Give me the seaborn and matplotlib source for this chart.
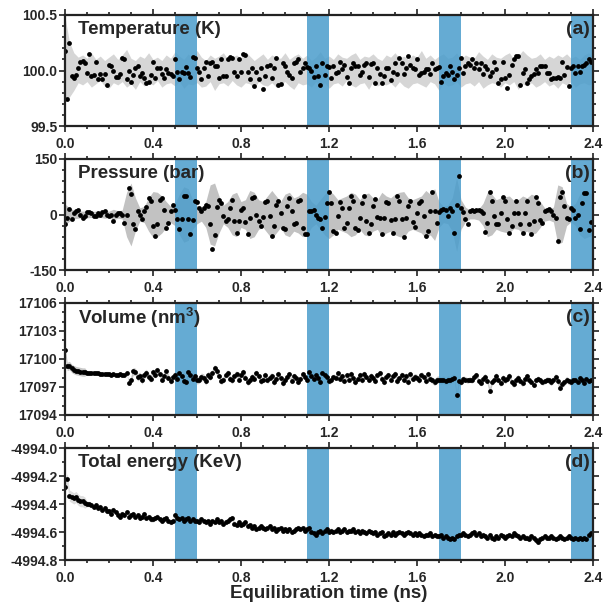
import numpy as np
import pandas as pd
import matplotlib
matplotlib.use("Agg")
import matplotlib.pyplot as plt
from matplotlib.ticker import MultipleLocator, FormatStrFormatter
import seaborn as sns

# ---------------------------------------------------------------- data
# sampled snapshots every 0.01 ns, 0.00 ... 2.39 ns
temperature = [
    100.18, 99.74, 100.25, 99.95, 99.93, 99.96, 100.02, 100.08, 100.09, 100.07,
    99.98, 100.15, 99.95, 99.96, 100.08, 99.92, 99.97, 99.92, 99.97, 99.87,
    100.05, 100.04, 100.00, 99.94, 99.94, 99.97, 100.11, 100.10, 99.92, 100.00,
    99.90, 99.96, 100.02, 100.04, 99.95, 99.98, 99.93, 99.89, 99.90, 99.96,
    100.08, 99.93, 100.02, 100.02, 99.97, 99.93, 100.01, 99.98, 99.97, 99.95,
    100.10, 99.99, 99.92, 99.99, 99.98, 100.03, 99.98, 99.94, 100.12, 100.11,
    100.02, 99.99, 99.92, 100.02, 100.08, 99.95, 100.07, 100.08, 100.04, 100.04,
    99.93, 100.10, 99.95, 99.95, 100.10, 100.12, 100.11, 99.99, 99.95, 100.10,
    99.99, 100.15, 100.14, 99.99, 99.92, 100.02, 99.86, 99.99, 99.92, 100.02,
    99.83, 99.95, 100.04, 100.05, 99.93, 100.02, 100.11, 99.87, 99.88, 100.07,
    100.04, 99.99, 99.96, 99.93, 100.07, 100.08, 100.10, 99.99, 100.02, 100.07,
    100.03, 100.02, 100.00, 99.94, 100.04, 99.95, 99.87, 100.07, 99.96, 100.04,
    100.03, 99.93, 100.04, 99.98, 99.99, 100.08, 100.01, 100.05, 99.94, 99.89,
    100.02, 100.07, 100.04, 100.04, 99.96, 99.99, 100.05, 100.07, 99.94, 100.06,
    100.07, 99.89, 100.02, 99.97, 99.89, 99.95, 100.02, 100.02, 99.91, 99.99,
    100.07, 99.97, 100.11, 100.07, 99.97, 100.02, 100.13, 100.05, 100.02, 100.01,
    100.10, 99.96, 99.98, 99.99, 100.01, 100.01, 99.97, 100.07, 100.01, 100.02,
    100.03, 99.90, 99.95, 99.98, 99.96, 100.04, 99.99, 99.92, 99.96, 100.02,
    100.11, 99.98, 100.04, 100.07, 100.05, 100.10, 100.02, 100.07, 100.01, 100.07,
    99.97, 100.04, 100.01, 99.95, 99.99, 100.08, 100.01, 99.89, 99.92, 100.08,
    99.93, 99.84, 99.96, 100.05, 100.10, 100.13, 100.13, 99.87, 99.98, 100.01,
    99.89, 99.92, 99.95, 99.97, 100.01, 99.98, 100.04, 100.04, 100.04, 99.98,
    99.98, 99.92, 99.93, 99.93, 99.94, 99.93, 100.08, 99.96, 100.03, 99.86,
    100.02, 100.04, 99.98, 100.04, 99.99, 100.04, 100.05, 100.07, 100.10, 100.08,
]

pressure = [
    -27, -10, 15, -13, 4, 9, 12, 0, -9, -3,
    6, 6, 3, -4, -3, 3, 0, 6, 9, 0,
    -3, 0, -18, 0, 3, 3, 0, -22, 0, 71,
    56, -27, -40, 9, 0, -13, 9, 20, 45, 36,
    -31, -58, -27, 40, 45, 12, -36, -22, 9, 27,
    13, -12, -38, -13, 49, 49, -13, -52, -15, 36,
    33, 18, 9, 18, 27, 22, -27, -92, -56, 20,
    40, 31, -3, -18, -13, 18, 40, -18, -49, -18,
    13, 18, -20, -54, -9, 45, 47, 0, -18, -31,
    -6, 33, 36, -3, -58, -31, 27, 36, 4, -36,
    -40, 22, 45, 9, -27, -22, 36, 40, -36, -54,
    -54, 9, 9, 13, 0, -9, -13, -36, -6, 31,
    62, 31, -45, -51, -4, 33, 18, -36, -22, 18,
    51, 36, -36, -42, -9, 31, 49, -18, -49, -27,
    22, 42, -6, -9, -54, -9, 33, 31, -15, -51,
    -13, 51, 36, -13, -60, -9, 22, 36, -20, -33,
    4, 31, 36, -3, -58, -45, 9, 60, 9, -22,
    6, 13, 15, 13, -4, 18, 9, -49, 27, 104,
    18, 6, -13, -27, 9, 12, 9, 12, 13, 9,
    4, -47, -22, 62, 36, -4, -27, -27, 4, 47,
    36, -13, -49, -31, 3, 36, 4, -27, -49, 4,
    36, -27, -54, -18, 47, 31, -15, -22, 9, 12,
    15, 9, 0, -9, -71, 47, 62, 22, -9, -13,
    18, 13, -9, 0, -40, 31, 58, 58, -42, -20,
]

volume = [
    17101.0, 17099.2, 17099.3, 17099.0, 17098.85, 17098.75, 17098.7, 17098.65, 17098.6, 17098.6,
    17098.55, 17098.5, 17098.5, 17098.45, 17098.5, 17098.45, 17098.4, 17098.4, 17098.35, 17098.4,
    17098.35, 17098.3, 17098.35, 17098.3, 17098.3, 17098.35, 17098.3, 17098.25, 17098.55, 17097.4,
    17097.8, 17098.7, 17098.6, 17098.05, 17098.2, 17097.7, 17098.3, 17098.5, 17098.1, 17097.9,
    17098.6, 17098.3, 17098.8, 17098.4, 17097.8, 17098.2, 17098.7, 17098.0, 17097.6, 17098.1,
    17098.3, 17097.9, 17098.5, 17098.2, 17097.6, 17097.5, 17098.6, 17098.3, 17097.9, 17098.2,
    17097.7, 17097.8, 17098.1, 17098.0, 17097.6, 17098.3, 17098.1, 17098.5, 17099.0, 17098.7,
    17098.2, 17097.6, 17097.8, 17098.3, 17098.5, 17097.9, 17097.7, 17098.2, 17098.4, 17097.8,
    17098.3, 17098.6, 17098.0, 17097.5, 17097.7, 17098.1, 17097.9, 17098.5, 17098.2, 17097.6,
    17097.8, 17098.3, 17097.7, 17098.0, 17098.2, 17097.5, 17097.9, 17098.4, 17098.0, 17097.4,
    17097.7, 17098.1, 17098.4, 17097.6, 17098.2, 17098.0, 17097.5, 17097.9, 17098.4, 17098.1,
    17097.8, 17098.6, 17098.2, 17097.9, 17098.3, 17098.0, 17097.5, 17098.5, 17098.3, 17098.1,
    17097.6, 17097.7, 17098.1, 17098.0, 17098.5, 17097.9, 17098.2, 17097.6, 17098.3, 17097.8,
    17098.4, 17098.0, 17097.5, 17097.9, 17098.3, 17097.7, 17098.4, 17098.1, 17097.8, 17098.2,
    17098.0, 17097.6, 17098.3, 17098.5, 17097.9, 17097.5, 17098.1, 17098.3, 17097.7, 17098.2,
    17098.4, 17097.6, 17098.0, 17098.3, 17097.8, 17098.2, 17097.5, 17098.4, 17097.9, 17098.1,
    17098.0, 17097.7, 17098.3, 17098.1, 17097.6, 17098.4, 17097.9, 17097.7, 17097.5, 17097.8,
    17097.8, 17097.7, 17097.8, 17097.6, 17097.8, 17097.7, 17097.9, 17098.0, 17096.1, 17097.6,
    17097.5, 17097.9, 17097.8, 17097.7, 17097.8, 17097.7, 17098.1, 17098.3, 17097.6, 17097.4,
    17097.9, 17098.1, 17097.6, 17096.6, 17097.5, 17097.8, 17098.2, 17097.7, 17097.4, 17098.0,
    17097.7, 17097.9, 17098.2, 17097.5, 17097.3, 17097.8, 17098.0, 17097.6, 17097.4, 17097.9,
    17098.2, 17097.8, 17097.5, 17097.2, 17097.7, 17097.9, 17097.7, 17097.5, 17097.6, 17097.8,
    17097.7, 17097.5, 17097.8, 17098.1, 17097.6, 17096.9, 17097.3, 17097.5, 17097.8, 17097.6,
    17097.5, 17097.7, 17097.8, 17097.5, 17098.0, 17097.7, 17097.4, 17097.9, 17097.6, 17097.7,
]

energy = [
    -4994.28, -4994.22, -4994.34, -4994.35, -4994.36, -4994.35, -4994.37, -4994.38, -4994.38, -4994.39,
    -4994.40, -4994.40, -4994.41, -4994.42, -4994.41, -4994.43, -4994.42, -4994.44, -4994.43, -4994.45,
    -4994.45, -4994.47, -4994.44, -4994.46, -4994.48, -4994.49, -4994.47, -4994.48, -4994.46, -4994.49,
    -4994.48, -4994.47, -4994.49, -4994.48, -4994.50, -4994.49, -4994.47, -4994.50, -4994.49, -4994.51,
    -4994.51, -4994.50, -4994.49, -4994.51, -4994.52, -4994.51, -4994.50, -4994.52, -4994.53, -4994.52,
    -4994.48, -4994.50, -4994.51, -4994.50, -4994.52, -4994.51, -4994.50, -4994.52, -4994.51, -4994.52,
    -4994.52, -4994.53, -4994.51, -4994.52, -4994.53, -4994.52, -4994.54, -4994.52, -4994.53, -4994.51,
    -4994.53, -4994.52, -4994.54, -4994.53, -4994.52, -4994.51, -4994.50, -4994.54, -4994.55, -4994.53,
    -4994.55, -4994.54, -4994.53, -4994.56, -4994.55, -4994.57, -4994.56, -4994.58, -4994.57, -4994.56,
    -4994.57, -4994.58, -4994.57, -4994.56, -4994.58, -4994.57, -4994.59, -4994.58, -4994.57, -4994.59,
    -4994.58, -4994.59, -4994.58, -4994.60, -4994.59, -4994.58, -4994.57, -4994.58, -4994.57, -4994.59,
    -4994.58, -4994.57, -4994.60, -4994.61, -4994.62, -4994.60, -4994.59, -4994.61, -4994.59, -4994.58,
    -4994.60, -4994.59, -4994.60, -4994.59, -4994.58, -4994.60, -4994.59, -4994.58, -4994.60, -4994.59,
    -4994.59, -4994.58, -4994.60, -4994.59, -4994.61, -4994.59, -4994.60, -4994.61, -4994.59, -4994.60,
    -4994.61, -4994.60, -4994.62, -4994.61, -4994.60, -4994.63, -4994.62, -4994.61, -4994.62, -4994.60,
    -4994.62, -4994.61, -4994.60, -4994.61, -4994.62, -4994.61, -4994.60, -4994.61, -4994.62, -4994.61,
    -4994.62, -4994.61, -4994.62, -4994.63, -4994.62, -4994.62, -4994.61, -4994.63, -4994.62, -4994.63,
    -4994.63, -4994.62, -4994.64, -4994.63, -4994.64, -4994.65, -4994.64, -4994.65, -4994.63, -4994.62,
    -4994.62, -4994.61, -4994.62, -4994.63, -4994.62, -4994.61, -4994.60, -4994.62, -4994.61, -4994.63,
    -4994.62, -4994.63, -4994.64, -4994.62, -4994.64, -4994.65, -4994.63, -4994.64, -4994.62, -4994.63,
    -4994.64, -4994.63, -4994.62, -4994.63, -4994.61, -4994.62, -4994.63, -4994.64, -4994.63, -4994.64,
    -4994.64, -4994.65, -4994.63, -4994.64, -4994.66, -4994.67, -4994.65, -4994.64, -4994.63, -4994.64,
    -4994.64, -4994.63, -4994.64, -4994.65, -4994.64, -4994.63, -4994.64, -4994.65, -4994.64, -4994.63,
    -4994.64, -4994.65, -4994.64, -4994.65, -4994.64, -4994.65, -4994.64, -4994.65, -4994.62, -4994.61,
]

# spread of the full-resolution trajectory (grey), every 0.02 ns, 0.00 ... 2.40 ns
temp_upper = [
    0.48, 0.26, 0.16, 0.12, 0.14, 0.11, 0.16, 0.10, 0.13, 0.09,
    0.12, 0.15, 0.10, 0.14, 0.19, 0.11, 0.09, 0.13, 0.11, 0.16,
    0.10, 0.12, 0.09, 0.14, 0.11, 0.17, 0.13, 0.10, 0.15, 0.11,
    0.18, 0.12, 0.09, 0.14, 0.11, 0.13, 0.16, 0.10, 0.12, 0.14,
    0.11, 0.17, 0.13, 0.09, 0.12, 0.15, 0.10, 0.14, 0.12, 0.11,
    0.16, 0.10, 0.13, 0.15, 0.11, 0.14, 0.09, 0.12, 0.17, 0.11,
    0.13, 0.10, 0.15, 0.12, 0.11, 0.14, 0.16, 0.10, 0.13, 0.12,
    0.15, 0.11, 0.09, 0.14, 0.12, 0.16, 0.11, 0.13, 0.10, 0.14,
    0.12, 0.18, 0.11, 0.14, 0.10, 0.13, 0.15, 0.11, 0.12, 0.16,
    0.10, 0.14, 0.12, 0.11, 0.17, 0.13, 0.10, 0.15, 0.12, 0.11,
    0.14, 0.16, 0.10, 0.13, 0.18, 0.14, 0.11, 0.12, 0.15, 0.10,
    0.13, 0.11, 0.14, 0.12, 0.15, 0.11, 0.13, 0.10, 0.14, 0.16,
    0.12,
]
temp_lower = [
    0.26, 0.24, 0.18, 0.11, 0.13, 0.10, 0.15, 0.12, 0.09, 0.14,
    0.16, 0.11, 0.13, 0.10, 0.15, 0.12, 0.17, 0.10, 0.14, 0.11,
    0.13, 0.09, 0.15, 0.12, 0.11, 0.14, 0.10, 0.16, 0.12, 0.13,
    0.11, 0.15, 0.14, 0.10, 0.18, 0.12, 0.11, 0.14, 0.09, 0.13,
    0.15, 0.11, 0.12, 0.16, 0.10, 0.13, 0.14, 0.11, 0.15, 0.12,
    0.10, 0.14, 0.17, 0.11, 0.13, 0.12, 0.15, 0.10, 0.14, 0.11,
    0.16, 0.12, 0.11, 0.14, 0.09, 0.13, 0.15, 0.12, 0.11, 0.17,
    0.10, 0.14, 0.12, 0.13, 0.11, 0.15, 0.10, 0.14, 0.16, 0.12,
    0.11, 0.13, 0.15, 0.10, 0.12, 0.18, 0.11, 0.14, 0.13, 0.10,
    0.15, 0.12, 0.11, 0.14, 0.10, 0.16, 0.13, 0.11, 0.12, 0.15,
    0.11, 0.13, 0.10, 0.17, 0.12, 0.14, 0.11, 0.15, 0.13, 0.10,
    0.14, 0.12, 0.16, 0.11, 0.13, 0.10, 0.15, 0.12, 0.11, 0.13,
    0.12,
]
press_spread = [
    28, 18, 12, 10, 9, 9, 8, 9, 8, 10,
    9, 14, 10, 12, 60, 85, 45, 18, 22, 45,
    62, 60, 50, 35, 22, 30, 55, 75, 70, 40,
    25, 18, 35, 80, 85, 50, 25, 35, 55, 60,
    35, 40, 65, 60, 40, 35, 50, 65, 50, 35,
    55, 60, 45, 50, 60, 55, 35, 25, 40, 55,
    65, 55, 40, 45, 50, 60, 55, 40, 55, 58,
    45, 40, 60, 50, 45, 55, 60, 62, 45, 40,
    45, 50, 65, 55, 70, 35, 22, 25, 45, 100,
    40, 20, 12, 12, 15, 30, 60, 55, 40, 45,
    48, 50, 38, 40, 50, 45, 55, 50, 35, 18,
    15, 20, 80, 75, 30, 20, 30, 55, 65, 60,
    55,
]
# spread around the sampled points, every 0.1 ns
vol_spread = [0.45, 0.15, 0.15, 0.40, 0.35, 0.35, 0.40, 0.35, 0.35, 0.35, 0.30, 0.35,
              0.30, 0.35, 0.30, 0.35, 0.35, 0.40, 0.30, 0.35, 0.35, 0.30, 0.35, 0.30]
energy_spread = [0.04, 0.02, 0.02, 0.02, 0.02, 0.02, 0.02, 0.02, 0.02, 0.02, 0.02, 0.02,
                 0.02, 0.02, 0.02, 0.02, 0.02, 0.02, 0.02, 0.02, 0.02, 0.02, 0.02, 0.02]

# re-equilibration windows (ns)
windows = [(0.5, 0.6), (1.1, 1.2), (1.7, 1.8), (2.3, 2.4)]

titles = ["Temperature (K)", "Pressure (bar)", "Volume (nm$^\\mathbf{3}$)", "Total energy (KeV)"]
tags = ["(a)", "(b)", "(c)", "(d)"]
ylims = [(99.5, 100.5), (-150, 150), (17094, 17106), (-4994.8, -4994.0)]
ymajor = [0.5, 150, 3, 0.2]
yminor = [0.1, 30, 1, 0.1]
yfmt = ["%.1f", "%d", "%d", "%.1f"]

# ---------------------------------------------------------------- style
sns.set_theme(style="ticks")
plt.rcParams["font.family"] = ["Liberation Sans", "DejaVu Sans"]
plt.rcParams["font.weight"] = "bold"
plt.rcParams["axes.unicode_minus"] = False
plt.rcParams["mathtext.fontset"] = "custom"
plt.rcParams["mathtext.bf"] = "Liberation Sans:bold"
plt.rcParams["mathtext.rm"] = "Liberation Sans:bold"

t = np.arange(len(temperature)) * 0.01
t2 = np.arange(len(temp_upper)) * 0.02

fig = plt.figure(figsize=(6.05, 6.09), dpi=100)
left, width = 65 / 605, 528 / 605
tops = [15, 159, 303, 448]
heights = [111, 111, 112, 112]
axes = [fig.add_axes([left, 1 - (tp + h) / 609, width, h / 609]) for tp, h in zip(tops, heights)]

series = [temperature, pressure, volume, energy]
grey = ["#d6d6d6", "#c2c2c2", "#c8c8c8", "#dedede"]
band_color = "#4a9dcc"

for i, ax in enumerate(axes):
    y = np.asarray(series[i], dtype=float)
    # grey trace of the full trajectory (lowest layer)
    if i == 0:
        ax.fill_between(t2, 100 - np.asarray(temp_lower), 100 + np.asarray(temp_upper),
                        color=grey[i], lw=0, zorder=0.2)
    elif i == 1:
        ps = np.asarray(press_spread, dtype=float)
        ax.fill_between(t2, -ps, ps, color=grey[i], lw=0, zorder=0.2)
    else:
        sp = np.repeat(vol_spread if i == 2 else energy_spread, 10)
        ax.fill_between(t, y - sp, y + sp, color=grey[i], lw=0, zorder=0.2)

    # translucent windows above the grey, below the points
    for a, b in windows:
        ax.axvspan(a, b, color=band_color, alpha=0.85, lw=0, zorder=0.5)

    df = pd.DataFrame({"time": t, "value": y})
    sns.scatterplot(data=df, x="time", y="value", ax=ax, s=12, color="#000000",
                    linewidth=0, legend=False, zorder=3)

    ax.set_xlim(0, 2.4)
    ax.set_ylim(*ylims[i])
    ax.set_xlabel("")
    ax.set_ylabel("")
    ax.xaxis.set_major_locator(MultipleLocator(0.4))
    ax.xaxis.set_minor_locator(MultipleLocator(0.1))
    ax.xaxis.set_major_formatter(FormatStrFormatter("%.1f"))
    ax.yaxis.set_major_locator(MultipleLocator(ymajor[i]))
    ax.yaxis.set_minor_locator(MultipleLocator(yminor[i]))
    ax.yaxis.set_major_formatter(FormatStrFormatter(yfmt[i]))
    ax.tick_params(which="both", direction="out", top=True, right=True,
                   color="#222222", width=1.2)
    ax.tick_params(which="major", length=4)
    ax.tick_params(which="minor", length=2.5)
    ax.tick_params(axis="x", which="major", labelsize=10, pad=4)
    ax.tick_params(axis="y", which="major", labelsize=10, pad=1.5)
    for lab in ax.get_xticklabels() + ax.get_yticklabels():
        lab.set_fontweight("bold")
    for sp_ in ax.spines.values():
        sp_.set_linewidth(1.6)
        sp_.set_color("#222222")
        sp_.set_zorder(4)

    ax.text(0.025, 0.87, titles[i], transform=ax.transAxes, fontsize=13.5,
            fontweight="bold", ha="left", va="center", zorder=5)
    ax.text(0.994, 0.87, tags[i], transform=ax.transAxes, fontsize=14,
            fontweight="bold", ha="right", va="center", zorder=5)

fig.text((65 + 593) / 2 / 605, 1 - 594 / 609, "Equilibration time (ns)",
         fontsize=13.5, fontweight="bold", ha="center", va="center")

fig.savefig("out.png", dpi=100)
